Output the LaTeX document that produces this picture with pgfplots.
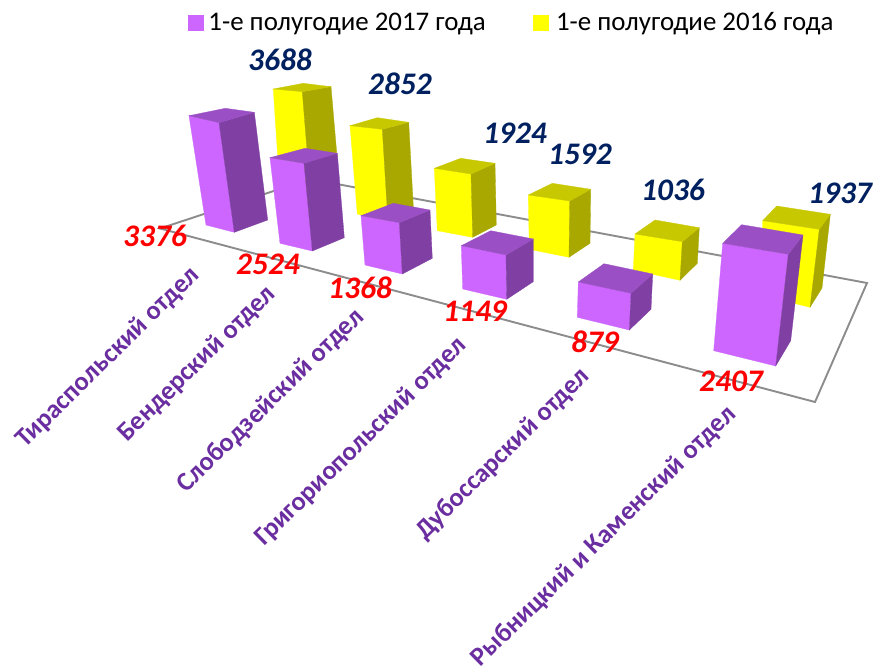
\documentclass[border=0pt]{standalone}
\usepackage{fontspec}
\setmainfont{Carlito}
\usepackage{pgfplots}
\pgfplotsset{compat=1.18}
\definecolor{pfront}{HTML}{CC66FF}
\definecolor{pside}{HTML}{8040A3}
\definecolor{ptop}{HTML}{9B4FC4}
\definecolor{yfront}{HTML}{FFFF00}
\definecolor{yside}{HTML}{A8A800}
\definecolor{ytop}{HTML}{C8C800}
\definecolor{navy}{HTML}{002060}
\definecolor{catc}{HTML}{6A2EA0}
\newcommand\face[2]{\addplot[fill=#1,draw=#1,line width=0.3bp,forget plot] coordinates {#2} -- cycle;}
% box: colour family, TL, mid-top, back, right, BL, mid-bottom, BR
\newcommand\cbox[8]{%
  \face{#1front}{#2 #3 #7 #6}%
  \face{#1side}{#3 #5 #8 #7}%
  \face{#1top}{#2 #4 #5 #3}%
}
\begin{document}
\begin{tikzpicture}
\path[use as bounding box] (0,0) rectangle (874bp,671bp);
\begin{axis}[
  at={(0,0)},anchor=south west,
  width=874bp,height=671bp,scale only axis,
  xmin=0,xmax=874,ymin=0,ymax=671,y dir=reverse,
  hide axis,clip=false,
  legend columns=2,
  legend cell align=left,
  legend style={draw=none,fill=none,at={(0.2151,0.9665)},anchor=west,inner sep=0pt,outer sep=0pt,
    font=\fontsize{27}{30}\selectfont,
    /tikz/every even column/.append style={column sep=45bp}},
]
\addlegendimage{legend image code/.code={\fill[pfront] (0bp,-7.5bp) rectangle (15bp,7.5bp);}}
\addlegendentry{\hspace{3bp}1-е полугодие 2017 года}
\addlegendimage{legend image code/.code={\fill[yfront] (0bp,-7.5bp) rectangle (15bp,7.5bp);}}
\addlegendentry{\hspace{6bp}1-е полугодие 2016 года}
% floor
\addplot[draw=black!45,line width=1.9bp,forget plot] coordinates {(160,228.5) (310,179) (867,283) (815,402)} -- cycle;
% yellow bars (1-е полугодие 2016 года)
\cbox{y}{(273.3,89)}{(302.3,91.7)}{(303.3,83.3)}{(331,86.7)}{(281,208)}{(312,212)}{(337.5,162)}
\cbox{y}{(350,125.7)}{(382.3,129.3)}{(377.3,117.7)}{(408.7,122.3)}{(357.3,214)}{(388,222)}{(413.5,210)}
\cbox{y}{(434.3,168.3)}{(471,174)}{(460.7,158.3)}{(495,163.3)}{(437.3,230.7)}{(472.7,237.3)}{(496.3,225)}
\cbox{y}{(528.3,195)}{(569.7,201)}{(552.3,183.3)}{(590.7,189.3)}{(529.3,249.3)}{(569,257.3)}{(590,243.3)}
\cbox{y}{(635,234)}{(682.3,241.7)}{(655,220)}{(699.3,227.7)}{(633.3,270)}{(680,280.3)}{(697.3,263.3)}
\cbox{y}{(762.7,220.7)}{(819.3,229.3)}{(776.7,206)}{(830.3,214.3)}{(760,295)}{(810,307.3)}{(822,288)}
% purple bars (1-е полугодие 2017 года)
\cbox{p}{(189,115.7)}{(219,122.7)}{(225.3,108.3)}{(254.3,112.3)}{(206,225)}{(234.3,232.3)}{(267.7,220)}
\cbox{p}{(270,157.7)}{(304,163.3)}{(305,148.3)}{(337.3,153.3)}{(280,243.3)}{(312.3,251)}{(344.3,237.7)}
\cbox{p}{(361,215.7)}{(399.3,222.7)}{(393.3,203.3)}{(430,210)}{(365,265)}{(402.3,274)}{(432.3,258.3)}
\cbox{p}{(461.3,245.7)}{(506,255)}{(490.7,230.7)}{(533.3,239)}{(462.7,289)}{(506.7,299.3)}{(533.3,281.7)}
\cbox{p}{(578.3,282)}{(631,293.3)}{(604,263.7)}{(652.7,274)}{(577.3,317.3)}{(629.3,330)}{(651,309.3)}
\cbox{p}{(722.7,243.3)}{(788.3,254.3)}{(741.7,224.7)}{(803,235)}{(713.7,350.7)}{(775.7,366)}{(790.7,340.7)}
% value labels
\addplot[only marks,mark=none,forget plot,point meta=explicit symbolic,nodes near coords,
  every node near coord/.append style={anchor=center,inner sep=0pt,text=navy,font=\fontsize{31.5}{32}\selectfont\bfseries\itshape}]
  coordinates {(280,60)[3688] (400,84)[2852] (515,133)[1924] (580,154)[1592] (673,190)[1036] (840,193)[1937]};
\addplot[only marks,mark=none,forget plot,point meta=explicit symbolic,nodes near coords,
  every node near coord/.append style={anchor=center,inner sep=0pt,text=red,font=\fontsize{31.5}{32}\selectfont\bfseries\itshape}]
  coordinates {(155,236)[3376] (268,264)[2524] (360,288)[1368] (475,311)[1149] (595,342)[879] (731,381)[2407]};
% category labels
\addplot[only marks,mark=none,forget plot,point meta=explicit symbolic,nodes near coords,
  every node near coord/.append style={anchor=center,inner sep=0pt,rotate=44.5,text=catc,font=\fontsize{26.5}{27}\selectfont\bfseries}]
  coordinates {(108,358)[Тираспольский отдел] (197,364)[Бендерский отдел] (271,401)[Слободзейский отдел] (361,442)[Григориопольский отдел] (503,454)[Дубоссарский отдел] (604,537)[Рыбницкий и Каменский отдел]};
\end{axis}
\end{tikzpicture}
\end{document}
